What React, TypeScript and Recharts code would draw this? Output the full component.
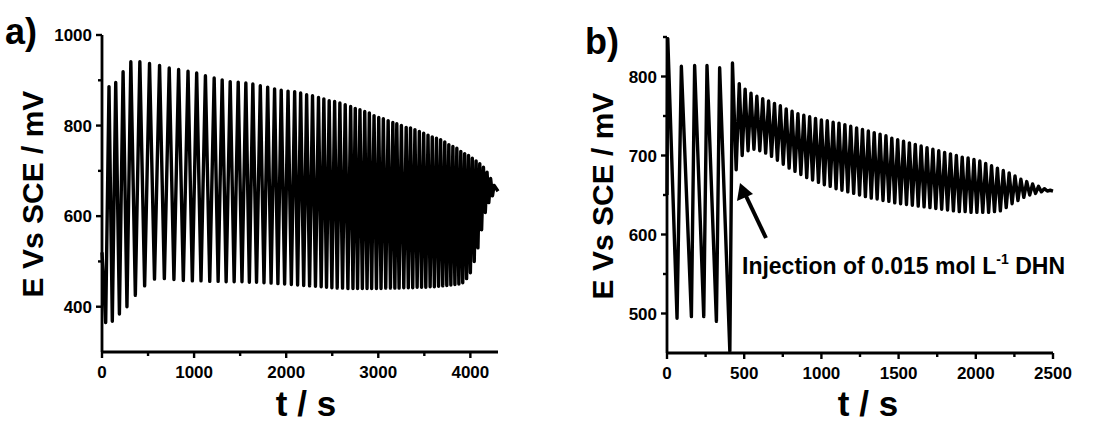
import React from 'react';
import { LineChart, Line, XAxis, YAxis } from 'recharts';

const font = '"Liberation Sans", Arial, sans-serif';

// ---- panel a) : free oscillation, t in s, E in mV
const aStart = { t: 0, e: 520 };
const aEnd = { t: 4300, e: 655 };
const aTroughT = [40, 112, 189, 271, 362, 463, 570, 677, 781, 883, 981, 1075, 1170, 1261, 1348, 1435, 1520, 1600, 1678, 1759, 1836, 1910, 1983, 2056, 2124, 2190, 2254, 2318, 2380, 2438, 2496, 2554, 2612, 2670, 2725, 2775, 2827, 2878, 2928, 2980, 3030, 3081, 3132, 3180, 3226, 3277, 3326, 3374, 3422, 3470, 3516, 3563, 3609, 3655, 3700, 3744, 3788, 3832, 3875, 3917, 3959, 4000, 4042, 4082, 4122, 4162, 4200, 4240];
const aTroughE = [365, 368, 384, 400, 425, 446, 461, 462, 460, 458, 457, 457, 456, 456, 455, 455, 455, 454, 454, 453, 452, 451, 450, 449, 448, 447, 446, 445, 444, 443, 442, 441, 441, 440, 440, 440, 440, 440, 440, 440, 440, 441, 441, 441, 441, 442, 442, 442, 443, 443, 443, 444, 444, 445, 446, 447, 448, 449, 450, 453, 462, 475, 500, 530, 570, 608, 630, 645];
const aPeakT = [76, 149, 229, 313, 411, 516, 625, 730, 832, 934, 1028, 1123, 1218, 1305, 1392, 1479, 1562, 1638, 1719, 1799, 1874, 1946, 2020, 2092, 2157, 2222, 2286, 2351, 2409, 2467, 2526, 2583, 2641, 2700, 2750, 2801, 2853, 2903, 2954, 3005, 3055, 3107, 3158, 3201, 3251, 3303, 3350, 3398, 3446, 3493, 3540, 3586, 3632, 3677, 3722, 3766, 3810, 3853, 3896, 3938, 3980, 4021, 4062, 4102, 4142, 4181, 4220, 4258];
const aPeakE = [886, 895, 919, 941, 941, 937, 933, 927, 924, 920, 916, 910, 905, 901, 897, 896, 894, 892, 888, 885, 881, 878, 876, 875, 872, 868, 866, 862, 859, 855, 853, 850, 846, 842, 838, 835, 831, 828, 822, 818, 815, 811, 807, 804, 800, 796, 795, 791, 787, 783, 779, 775, 772, 769, 764, 758, 754, 750, 743, 738, 734, 728, 722, 716, 708, 697, 683, 668];

const aXTicks = [0, 500, 1000, 1500, 2000, 2500, 3000, 3500, 4000];
const aXLabels = [0, 1000, 2000, 3000, 4000];
const aYTicks = [400, 500, 600, 700, 800, 900, 1000];
const aYLabels = [400, 600, 800, 1000];

// ---- panel b) : before / after DHN injection
const bPreT = [0, 5, 65, 93, 158, 179, 238, 259, 320, 341, 407, 424];
const bPreE = [650, 848, 494, 813, 496, 814, 496, 814, 490, 811, 452, 817];
const bEnd = { t: 2500, e: 655 };
const bTroughT = [448, 487, 525, 563, 601, 639, 677, 715, 753, 791, 829, 867, 905, 943, 981, 1019, 1057, 1095, 1133, 1171, 1209, 1247, 1285, 1323, 1361, 1399, 1437, 1475, 1513, 1551, 1589, 1627, 1665, 1703, 1741, 1779, 1817, 1855, 1893, 1931, 1969, 2007, 2045, 2083, 2121, 2159, 2197, 2235, 2273, 2311, 2349, 2387, 2425, 2463];
const bTroughE = [682, 700, 706, 708, 706, 703, 699, 694, 689, 684, 680, 676, 672, 669, 666, 663, 661, 658, 656, 654, 652, 650, 648, 646, 645, 643, 642, 640, 639, 638, 637, 636, 635, 634, 633, 632, 631, 630, 629, 629, 628, 628, 628, 628, 629, 630, 634, 639, 643, 647, 650, 652, 654, 655];
const bPeakT = [468, 506, 544, 582, 620, 658, 696, 734, 772, 810, 848, 886, 924, 962, 1000, 1038, 1076, 1114, 1152, 1190, 1228, 1266, 1304, 1342, 1380, 1418, 1456, 1494, 1532, 1570, 1608, 1646, 1684, 1722, 1760, 1798, 1836, 1874, 1912, 1950, 1988, 2026, 2064, 2102, 2140, 2178, 2216, 2254, 2292, 2330, 2368, 2406, 2444, 2482];
const bPeakE = [791, 784, 779, 775, 772, 769, 766, 763, 759, 756, 753, 751, 749, 747, 745, 744, 742, 741, 739, 737, 735, 733, 731, 729, 727, 725, 722, 720, 718, 716, 714, 712, 710, 708, 706, 704, 702, 700, 698, 697, 695, 693, 690, 687, 684, 681, 678, 674, 670, 667, 664, 661, 658, 656];

const bXTicks = [0, 250, 500, 750, 1000, 1250, 1500, 1750, 2000, 2250, 2500];
const bXLabels = [0, 500, 1000, 1500, 2000, 2500];
const bYTicks = [500, 550, 600, 650, 700, 750, 800, 850];
const bYLabels = [500, 600, 700, 800];

type Pt = { t: number; e: number };

const interleave = (troughT: number[], troughE: number[], peakT: number[], peakE: number[]) => {
  const pts: Pt[] = [];
  peakT.forEach((t, i) => {
    pts.push({ t: troughT[i], e: troughE[i] });
    pts.push({ t, e: peakE[i] });
  });
  return pts;
};

const dataA: Pt[] = [aStart, ...interleave(aTroughT, aTroughE, aPeakT, aPeakE), aEnd];
const dataB: Pt[] = [
  ...bPreT.map((t, i) => ({ t, e: bPreE[i] })),
  ...interleave(bTroughT, bTroughE, bPeakT, bPeakE),
  bEnd,
];

const xTick = (labels: number[]) => (props: any) => {
  const { x, y, payload } = props;
  const major = labels.includes(payload.value);
  return (
    <g>
      <line x1={x} x2={x} y1={y} y2={y + (major ? 6 : 4)} stroke="#000" strokeWidth={2.4} />
      {major && (
        <text x={x} y={y + 26} textAnchor="middle" fontFamily={font} fontWeight="bold" fontSize={17} fill="#000">
          {payload.value}
        </text>
      )}
    </g>
  );
};

const yTick = (labels: number[]) => (props: any) => {
  const { x, y, payload } = props;
  const major = labels.includes(payload.value);
  return (
    <g>
      <line x1={x - (major ? 6 : 4)} x2={x} y1={y} y2={y} stroke="#000" strokeWidth={2.4} />
      {major && (
        <text x={x - 10} y={y + 6} textAnchor="end" fontFamily={font} fontWeight="bold" fontSize={17} fill="#000">
          {payload.value}
        </text>
      )}
    </g>
  );
};

const axisLine = { stroke: '#000', strokeWidth: 2.8 };

const boldText = { fontFamily: font, fontWeight: 'bold' as const, fill: '#000' };

export default function App() {
  return (
    <div style={{ position: 'absolute', left: 0, top: 0, width: 1095, height: 425, background: '#fff' }}>
      <div style={{ position: 'absolute', left: 0, top: 0 }}>
        <LineChart width={520} height={425} data={dataA} margin={{ top: 35, right: 22, bottom: 0, left: 0 }}>
          <XAxis
            dataKey="t"
            type="number"
            domain={[0, 4300]}
            ticks={aXTicks}
            interval={0}
            height={73}
            tickSize={0}
            tickMargin={0}
            tickLine={false}
            axisLine={axisLine}
            tick={xTick(aXLabels)}
          />
          <YAxis
            type="number"
            domain={[300, 1000]}
            ticks={aYTicks}
            interval={0}
            width={102}
            tickSize={0}
            tickMargin={0}
            tickLine={false}
            axisLine={axisLine}
            tick={yTick(aYLabels)}
          />
          <Line
            dataKey="e"
            type="linear"
            stroke="#000"
            strokeWidth={3.4}
            strokeLinejoin="round"
            dot={false}
            isAnimationActive={false}
          />
        </LineChart>
      </div>
      <div style={{ position: 'absolute', left: 560, top: 0 }}>
        <LineChart width={535} height={425} data={dataB} margin={{ top: 37, right: 42, bottom: 0, left: 0 }}>
          <XAxis
            dataKey="t"
            type="number"
            domain={[0, 2500]}
            ticks={bXTicks}
            interval={0}
            height={72}
            tickSize={0}
            tickMargin={0}
            tickLine={false}
            axisLine={axisLine}
            tick={xTick(bXLabels)}
          />
          <YAxis
            type="number"
            domain={[450, 850]}
            ticks={bYTicks}
            interval={0}
            width={107}
            tickSize={0}
            tickMargin={0}
            tickLine={false}
            axisLine={axisLine}
            tick={yTick(bYLabels)}
          />
          <Line
            dataKey="e"
            type="linear"
            stroke="#000"
            strokeWidth={3.4}
            strokeLinejoin="round"
            dot={false}
            isAnimationActive={false}
          />
        </LineChart>
      </div>
      <svg width={1095} height={425} style={{ position: 'absolute', left: 0, top: 0, pointerEvents: 'none' }}>
        <text x={5} y={44} fontSize={36} {...boldText}>a)</text>
        <text x={585} y={54} fontSize={36} {...boldText}>b)</text>
        <text x={43} y={194} fontSize={30} textAnchor="middle" transform="rotate(-90 43 194)" {...boldText}>
          E Vs SCE / mV
        </text>
        <text x={613} y={196} fontSize={30} textAnchor="middle" transform="rotate(-90 613 196)" {...boldText}>
          E Vs SCE / mV
        </text>
        <text x={306} y={416} fontSize={35} textAnchor="middle" {...boldText}>t / s</text>
        <text x={868} y={416} fontSize={35} textAnchor="middle" {...boldText}>t / s</text>
        <line x1={766} y1={238} x2={746} y2={196} stroke="#000" strokeWidth={4} />
        <polygon points="740,183 737,201 753,194" fill="#000" />
        <text x={742} y={274} fontSize={23} {...boldText}>
          Injection of 0.015 mol L<tspan dy={-10} fontSize={14}>-1</tspan>
          <tspan dy={10}> DHN</tspan>
        </text>
      </svg>
    </div>
  );
}
